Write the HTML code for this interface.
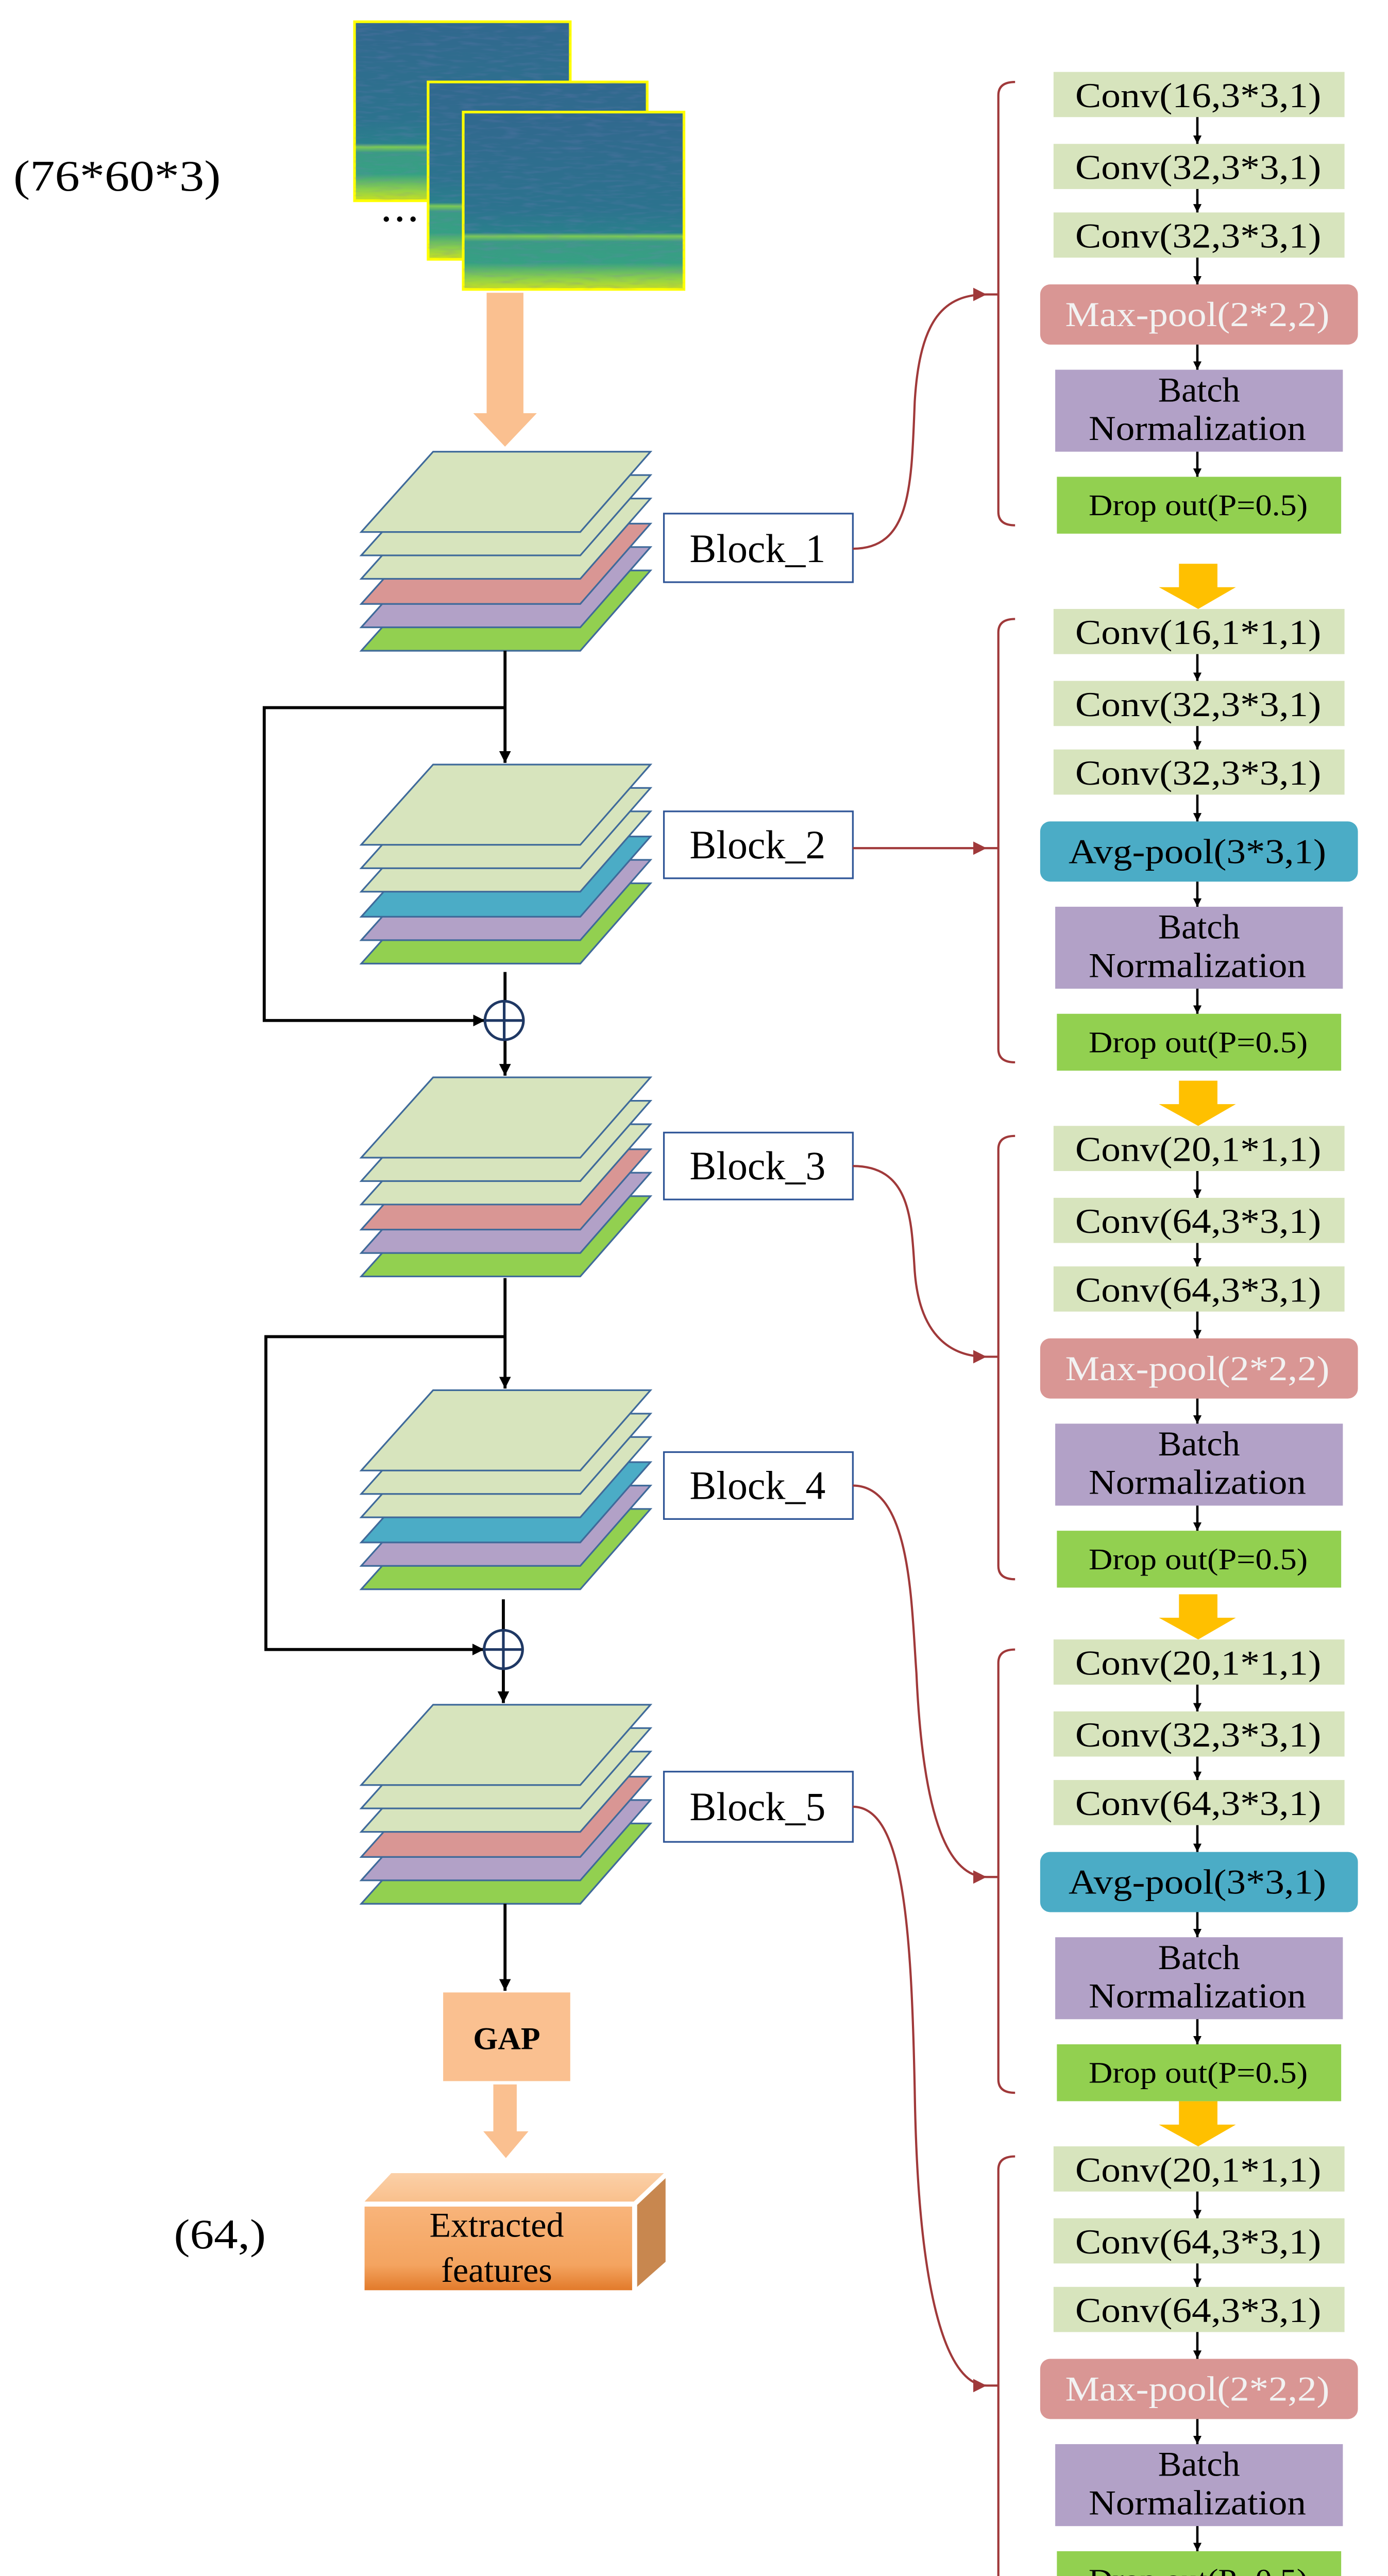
<!DOCTYPE html>
<html><head><meta charset="utf-8"><style>
html,body{margin:0;padding:0;background:#fff;width:2694px;height:5098px;overflow:hidden;}
svg{display:block;position:absolute;left:0;top:0;}
text{font-family:"Liberation Serif",serif;}
</style></head><body>
<svg width="2694" height="5098" viewBox="0 0 830 1570" preserveAspectRatio="none" xmlns="http://www.w3.org/2000/svg">
<defs>
<linearGradient id="sp" x1="0" y1="0" x2="0" y2="1">
<stop offset="0" stop-color="#31688e"/>
<stop offset="0.55" stop-color="#2c738e"/>
<stop offset="0.68" stop-color="#2a808c"/>
<stop offset="0.70" stop-color="#7ccb55"/>
<stop offset="0.73" stop-color="#3b9a85"/>
<stop offset="0.85" stop-color="#35a083"/>
<stop offset="0.94" stop-color="#8fd14a"/>
<stop offset="1" stop-color="#c8e020"/>
</linearGradient>
<filter id="nz" x="0" y="0" width="1" height="1">
<feTurbulence type="fractalNoise" baseFrequency="0.08 0.5" numOctaves="2" seed="3"/>
<feColorMatrix type="matrix" values="0 0 0 0 0.2  0 0 0 0 0.2  0 0 0 0 0.5  0 0 0 1.2 -0.55"/>
<feComposite in2="SourceGraphic" operator="in"/>
</filter>
<linearGradient id="fr" x1="0" y1="0" x2="0" y2="1">
<stop offset="0" stop-color="#f8b47a"/><stop offset="0.7" stop-color="#f4a460"/><stop offset="1" stop-color="#e27a2a"/>
</linearGradient>
<linearGradient id="tp" x1="0" y1="0" x2="0" y2="1">
<stop offset="0" stop-color="#fbd0a8"/><stop offset="1" stop-color="#f9c08c"/>
</linearGradient>
<marker id="ab" viewBox="0 0 10 10" refX="10" refY="5" markerWidth="7" markerHeight="7" markerUnits="userSpaceOnUse" orient="auto"><path d="M0,0 L10,5 L0,10 z" fill="#000"/></marker>
<marker id="as" viewBox="0 0 10 10" refX="10" refY="5" markerWidth="5" markerHeight="6" markerUnits="userSpaceOnUse" orient="auto"><path d="M0,0 L10,5 L0,10 z" fill="#000"/></marker>
<marker id="ar" viewBox="0 0 10 10" refX="10" refY="5" markerWidth="9" markerHeight="8" markerUnits="userSpaceOnUse" orient="auto"><path d="M0,0 L10,5 L0,10 z" fill="#a0393a"/></marker>
</defs>

<text x="8" y="114" font-size="26" textLength="124" lengthAdjust="spacingAndGlyphs">(76*60*3)</text>

<g stroke="#ffff00" stroke-width="1.6">
<rect x="212" y="13" width="129" height="107" fill="url(#sp)"/>
<rect x="212" y="13" width="129" height="107" fill="#000" filter="url(#nz)" stroke="none" opacity="0.5"/>
<rect x="256" y="49" width="131" height="106" fill="url(#sp)"/>
<rect x="256" y="49" width="131" height="106" fill="#000" filter="url(#nz)" stroke="none" opacity="0.5"/>
<rect x="277" y="67" width="132" height="106" fill="url(#sp)"/>
<rect x="277" y="67" width="132" height="106" fill="#000" filter="url(#nz)" stroke="none" opacity="0.5"/>
</g>
<circle cx="231" cy="131" r="1.6"/><circle cx="239" cy="131" r="1.6"/><circle cx="247" cy="131" r="1.6"/>

<polygon points="291,175 313,175 313,247 321,247 302,267 283,247 291,247" fill="#fac090"/>

<g stroke="#3f6a9a" stroke-width="1">
<polygon points="259,341 389,341 347,389 216,389" fill="#92d050"/>
<polygon points="259,327 389,327 347,375 216,375" fill="#b2a1c7"/>
<polygon points="259,313 389,313 347,361 216,361" fill="#d99694"/>
<polygon points="259,298 389,298 347,346 216,346" fill="#d7e4bd"/>
<polygon points="259,284 389,284 347,332 216,332" fill="#d7e4bd"/>
<polygon points="259,270 389,270 347,318 216,318" fill="#d7e4bd"/>
<polygon points="259,528 389,528 347,576 216,576" fill="#92d050"/>
<polygon points="259,514 389,514 347,562 216,562" fill="#b2a1c7"/>
<polygon points="259,500 389,500 347,548 216,548" fill="#4bacc6"/>
<polygon points="259,485 389,485 347,533 216,533" fill="#d7e4bd"/>
<polygon points="259,471 389,471 347,519 216,519" fill="#d7e4bd"/>
<polygon points="259,457 389,457 347,505 216,505" fill="#d7e4bd"/>
<polygon points="259,715 389,715 347,763 216,763" fill="#92d050"/>
<polygon points="259,701 389,701 347,749 216,749" fill="#b2a1c7"/>
<polygon points="259,687 389,687 347,735 216,735" fill="#d99694"/>
<polygon points="259,672 389,672 347,720 216,720" fill="#d7e4bd"/>
<polygon points="259,658 389,658 347,706 216,706" fill="#d7e4bd"/>
<polygon points="259,644 389,644 347,692 216,692" fill="#d7e4bd"/>
<polygon points="259,902 389,902 347,950 216,950" fill="#92d050"/>
<polygon points="259,888 389,888 347,936 216,936" fill="#b2a1c7"/>
<polygon points="259,874 389,874 347,922 216,922" fill="#4bacc6"/>
<polygon points="259,859 389,859 347,907 216,907" fill="#d7e4bd"/>
<polygon points="259,845 389,845 347,893 216,893" fill="#d7e4bd"/>
<polygon points="259,831 389,831 347,879 216,879" fill="#d7e4bd"/>
<polygon points="259,1090 389,1090 347,1138 216,1138" fill="#92d050"/>
<polygon points="259,1076 389,1076 347,1124 216,1124" fill="#b2a1c7"/>
<polygon points="259,1062 389,1062 347,1110 216,1110" fill="#d99694"/>
<polygon points="259,1047 389,1047 347,1095 216,1095" fill="#d7e4bd"/>
<polygon points="259,1033 389,1033 347,1081 216,1081" fill="#d7e4bd"/>
<polygon points="259,1019 389,1019 347,1067 216,1067" fill="#d7e4bd"/>
</g>

<g fill="#fff" stroke="#2f5597" stroke-width="1">
<rect x="397" y="307" width="113" height="41"/>
<rect x="397" y="485" width="113" height="40"/>
<rect x="397" y="677" width="113" height="40"/>
<rect x="397" y="868" width="113" height="40"/>
<rect x="397" y="1059" width="113" height="42"/>
</g>
<g font-size="24" text-anchor="middle">
<text x="453" y="336">Block_1</text>
<text x="453" y="513">Block_2</text>
<text x="453" y="705">Block_3</text>
<text x="453" y="896">Block_4</text>
<text x="453" y="1088">Block_5</text>
</g>

<g stroke="#000" stroke-width="1.8" fill="none">
<line x1="302" y1="389" x2="302" y2="456" marker-end="url(#ab)"/>
<polyline points="302,423 158,423 158,610 290,610" marker-end="url(#ab)"/>
<line x1="302" y1="581" x2="302" y2="598.5"/>
<line x1="302" y1="621.5" x2="302" y2="643" marker-end="url(#ab)"/>
<line x1="302" y1="764" x2="302" y2="830" marker-end="url(#ab)"/>
<polyline points="302,799 159,799 159,986 289.5,986" marker-end="url(#ab)"/>
<line x1="301" y1="956" x2="301" y2="974.5"/>
<line x1="301" y1="997.5" x2="301" y2="1018" marker-end="url(#ab)"/>
<line x1="302" y1="1138" x2="302" y2="1190" marker-end="url(#ab)"/>
</g>
<g stroke="#1f3864" stroke-width="1.6" fill="none">
<circle cx="301.5" cy="610" r="11.5"/><line x1="290" y1="610" x2="313" y2="610"/><line x1="301.5" y1="598.5" x2="301.5" y2="621.5"/>
<circle cx="301" cy="986" r="11.5"/><line x1="289.5" y1="986" x2="312.5" y2="986"/><line x1="301" y1="974.5" x2="301" y2="997.5"/>
</g>

<rect x="265" y="1191" width="76" height="53" fill="#fac090"/>
<text x="303" y="1225" font-size="19" font-weight="bold" text-anchor="middle">GAP</text>
<polygon points="295,1246 309,1246 309,1274 316,1274 302.5,1290 289,1274 295,1274" fill="#fac090"/>

<polygon points="218,1316 234,1299 397,1299 379,1316" fill="url(#tp)"/>
<polygon points="381,1318 398,1302 398,1352 381,1367" fill="#c8874f"/>
<rect x="218" y="1319" width="160" height="50" fill="url(#fr)"/>
<text x="297" y="1337" font-size="21" text-anchor="middle">Extracted</text>
<text x="297" y="1364" font-size="21" text-anchor="middle">features</text>
<text x="104" y="1344" font-size="25" textLength="55" lengthAdjust="spacingAndGlyphs">(64,)</text>

<g stroke="#a0393a" stroke-width="1.3" fill="none">
<path d="M510,328 C545,328 545,290 547,240 C550,190 565,176 590,176" marker-end="url(#ar)"/>
<line x1="510" y1="507" x2="590" y2="507" marker-end="url(#ar)"/>
<path d="M510,697 C545,697 545,730 547,760 C550,800 570,811 590,811" marker-end="url(#ar)"/>
<path d="M510,888 C545,888 545,960 548,1000 C552,1090 568,1122 590,1122" marker-end="url(#ar)"/>
<path d="M510,1080 C540,1080 545,1150 547,1250 C549,1380 568,1426 590,1426" marker-end="url(#ar)"/>
<path d="M607,49 Q597,49 597,57 L597,306 Q597,314 607,314 M590,176 H597"/>
<path d="M607,370 Q597,370 597,378 L597,627 Q597,635 607,635 M590,507 H597"/>
<path d="M607,679 Q597,679 597,687 L597,936 Q597,944 607,944 M590,811 H597"/>
<path d="M607,986 Q597,986 597,994 L597,1243 Q597,1251 607,1251 M590,1122 H597"/>
<path d="M607,1289 Q597,1289 597,1297 L597,1546 Q597,1554 607,1554 M590,1426 H597"/>
</g>

<g fill="#ffc000">
<polygon points="705,337 728,337 728,351 739,351 716.5,364 693,351 705,351"/>
<polygon points="705,646 728,646 728,660 739,660 716.5,673 693,660 705,660"/>
<polygon points="705,953 728,953 728,967 739,967 716.5,980 693,967 705,967"/>
<polygon points="705,1256 728,1256 728,1270 739,1270 716.5,1283 693,1270 705,1270"/>
</g>

<g>
<rect x="630" y="43" width="174" height="27" fill="#d7e4bd"/>
<rect x="630" y="86" width="174" height="27" fill="#d7e4bd"/>
<rect x="630" y="127" width="174" height="27" fill="#d7e4bd"/>
<rect x="622" y="170" width="190" height="36" rx="6" fill="#d99694"/>
<rect x="631" y="221" width="172" height="49" fill="#b2a1c7"/>
<rect x="632" y="285" width="170" height="34" fill="#92d050"/>
<rect x="630" y="364" width="174" height="27" fill="#d7e4bd"/>
<rect x="630" y="407" width="174" height="27" fill="#d7e4bd"/>
<rect x="630" y="448" width="174" height="27" fill="#d7e4bd"/>
<rect x="622" y="491" width="190" height="36" rx="6" fill="#4bacc6"/>
<rect x="631" y="542" width="172" height="49" fill="#b2a1c7"/>
<rect x="632" y="606" width="170" height="34" fill="#92d050"/>
<rect x="630" y="673" width="174" height="27" fill="#d7e4bd"/>
<rect x="630" y="716" width="174" height="27" fill="#d7e4bd"/>
<rect x="630" y="757" width="174" height="27" fill="#d7e4bd"/>
<rect x="622" y="800" width="190" height="36" rx="6" fill="#d99694"/>
<rect x="631" y="851" width="172" height="49" fill="#b2a1c7"/>
<rect x="632" y="915" width="170" height="34" fill="#92d050"/>
<rect x="630" y="980" width="174" height="27" fill="#d7e4bd"/>
<rect x="630" y="1023" width="174" height="27" fill="#d7e4bd"/>
<rect x="630" y="1064" width="174" height="27" fill="#d7e4bd"/>
<rect x="622" y="1107" width="190" height="36" rx="6" fill="#4bacc6"/>
<rect x="631" y="1158" width="172" height="49" fill="#b2a1c7"/>
<rect x="632" y="1222" width="170" height="34" fill="#92d050"/>
<rect x="630" y="1283" width="174" height="27" fill="#d7e4bd"/>
<rect x="630" y="1326" width="174" height="27" fill="#d7e4bd"/>
<rect x="630" y="1367" width="174" height="27" fill="#d7e4bd"/>
<rect x="622" y="1410" width="190" height="36" rx="6" fill="#d99694"/>
<rect x="631" y="1461" width="172" height="49" fill="#b2a1c7"/>
<rect x="632" y="1525" width="170" height="34" fill="#92d050"/>
</g>

<g stroke="#000" stroke-width="1.4" marker-end="url(#as)">
<line x1="716" y1="70" x2="716" y2="86"/><line x1="716" y1="113" x2="716" y2="127"/><line x1="716" y1="154" x2="716" y2="170"/><line x1="716" y1="206" x2="716" y2="221"/><line x1="716" y1="270" x2="716" y2="285"/>
<line x1="716" y1="391" x2="716" y2="407"/><line x1="716" y1="434" x2="716" y2="448"/><line x1="716" y1="475" x2="716" y2="491"/><line x1="716" y1="527" x2="716" y2="542"/><line x1="716" y1="591" x2="716" y2="606"/>
<line x1="716" y1="700" x2="716" y2="716"/><line x1="716" y1="743" x2="716" y2="757"/><line x1="716" y1="784" x2="716" y2="800"/><line x1="716" y1="836" x2="716" y2="851"/><line x1="716" y1="900" x2="716" y2="915"/>
<line x1="716" y1="1007" x2="716" y2="1023"/><line x1="716" y1="1050" x2="716" y2="1064"/><line x1="716" y1="1091" x2="716" y2="1107"/><line x1="716" y1="1143" x2="716" y2="1158"/><line x1="716" y1="1207" x2="716" y2="1222"/>
<line x1="716" y1="1310" x2="716" y2="1326"/><line x1="716" y1="1353" x2="716" y2="1367"/><line x1="716" y1="1394" x2="716" y2="1410"/><line x1="716" y1="1446" x2="716" y2="1461"/><line x1="716" y1="1510" x2="716" y2="1525"/>
</g>

<g font-size="21">
<text x="643" y="64" textLength="147" lengthAdjust="spacingAndGlyphs">Conv(16,3*3,1)</text>
<text x="643" y="107" textLength="147" lengthAdjust="spacingAndGlyphs">Conv(32,3*3,1)</text>
<text x="643" y="148" textLength="147" lengthAdjust="spacingAndGlyphs">Conv(32,3*3,1)</text>
<text x="637" y="195" textLength="158" lengthAdjust="spacingAndGlyphs" fill="#f2f2f2">Max-pool(2*2,2)</text>
<text x="717" y="240" text-anchor="middle">Batch</text>
<text x="651" y="263" textLength="130" lengthAdjust="spacingAndGlyphs">Normalization</text>
<text x="651" y="308" font-size="18" textLength="131" lengthAdjust="spacingAndGlyphs">Drop out(P=0.5)</text>

<text x="643" y="385" textLength="147" lengthAdjust="spacingAndGlyphs">Conv(16,1*1,1)</text>
<text x="643" y="428" textLength="147" lengthAdjust="spacingAndGlyphs">Conv(32,3*3,1)</text>
<text x="643" y="469" textLength="147" lengthAdjust="spacingAndGlyphs">Conv(32,3*3,1)</text>
<text x="639" y="516" textLength="154" lengthAdjust="spacingAndGlyphs">Avg-pool(3*3,1)</text>
<text x="717" y="561" text-anchor="middle">Batch</text>
<text x="651" y="584" textLength="130" lengthAdjust="spacingAndGlyphs">Normalization</text>
<text x="651" y="629" font-size="18" textLength="131" lengthAdjust="spacingAndGlyphs">Drop out(P=0.5)</text>

<text x="643" y="694" textLength="147" lengthAdjust="spacingAndGlyphs">Conv(20,1*1,1)</text>
<text x="643" y="737" textLength="147" lengthAdjust="spacingAndGlyphs">Conv(64,3*3,1)</text>
<text x="643" y="778" textLength="147" lengthAdjust="spacingAndGlyphs">Conv(64,3*3,1)</text>
<text x="637" y="825" textLength="158" lengthAdjust="spacingAndGlyphs" fill="#f2f2f2">Max-pool(2*2,2)</text>
<text x="717" y="870" text-anchor="middle">Batch</text>
<text x="651" y="893" textLength="130" lengthAdjust="spacingAndGlyphs">Normalization</text>
<text x="651" y="938" font-size="18" textLength="131" lengthAdjust="spacingAndGlyphs">Drop out(P=0.5)</text>

<text x="643" y="1001" textLength="147" lengthAdjust="spacingAndGlyphs">Conv(20,1*1,1)</text>
<text x="643" y="1044" textLength="147" lengthAdjust="spacingAndGlyphs">Conv(32,3*3,1)</text>
<text x="643" y="1085" textLength="147" lengthAdjust="spacingAndGlyphs">Conv(64,3*3,1)</text>
<text x="639" y="1132" textLength="154" lengthAdjust="spacingAndGlyphs">Avg-pool(3*3,1)</text>
<text x="717" y="1177" text-anchor="middle">Batch</text>
<text x="651" y="1200" textLength="130" lengthAdjust="spacingAndGlyphs">Normalization</text>
<text x="651" y="1245" font-size="18" textLength="131" lengthAdjust="spacingAndGlyphs">Drop out(P=0.5)</text>

<text x="643" y="1304" textLength="147" lengthAdjust="spacingAndGlyphs">Conv(20,1*1,1)</text>
<text x="643" y="1347" textLength="147" lengthAdjust="spacingAndGlyphs">Conv(64,3*3,1)</text>
<text x="643" y="1388" textLength="147" lengthAdjust="spacingAndGlyphs">Conv(64,3*3,1)</text>
<text x="637" y="1435" textLength="158" lengthAdjust="spacingAndGlyphs" fill="#f2f2f2">Max-pool(2*2,2)</text>
<text x="717" y="1480" text-anchor="middle">Batch</text>
<text x="651" y="1503" textLength="130" lengthAdjust="spacingAndGlyphs">Normalization</text>
<text x="651" y="1548" font-size="18" textLength="131" lengthAdjust="spacingAndGlyphs">Drop out(P=0.5)</text>
</g>
</svg>
</body></html>
